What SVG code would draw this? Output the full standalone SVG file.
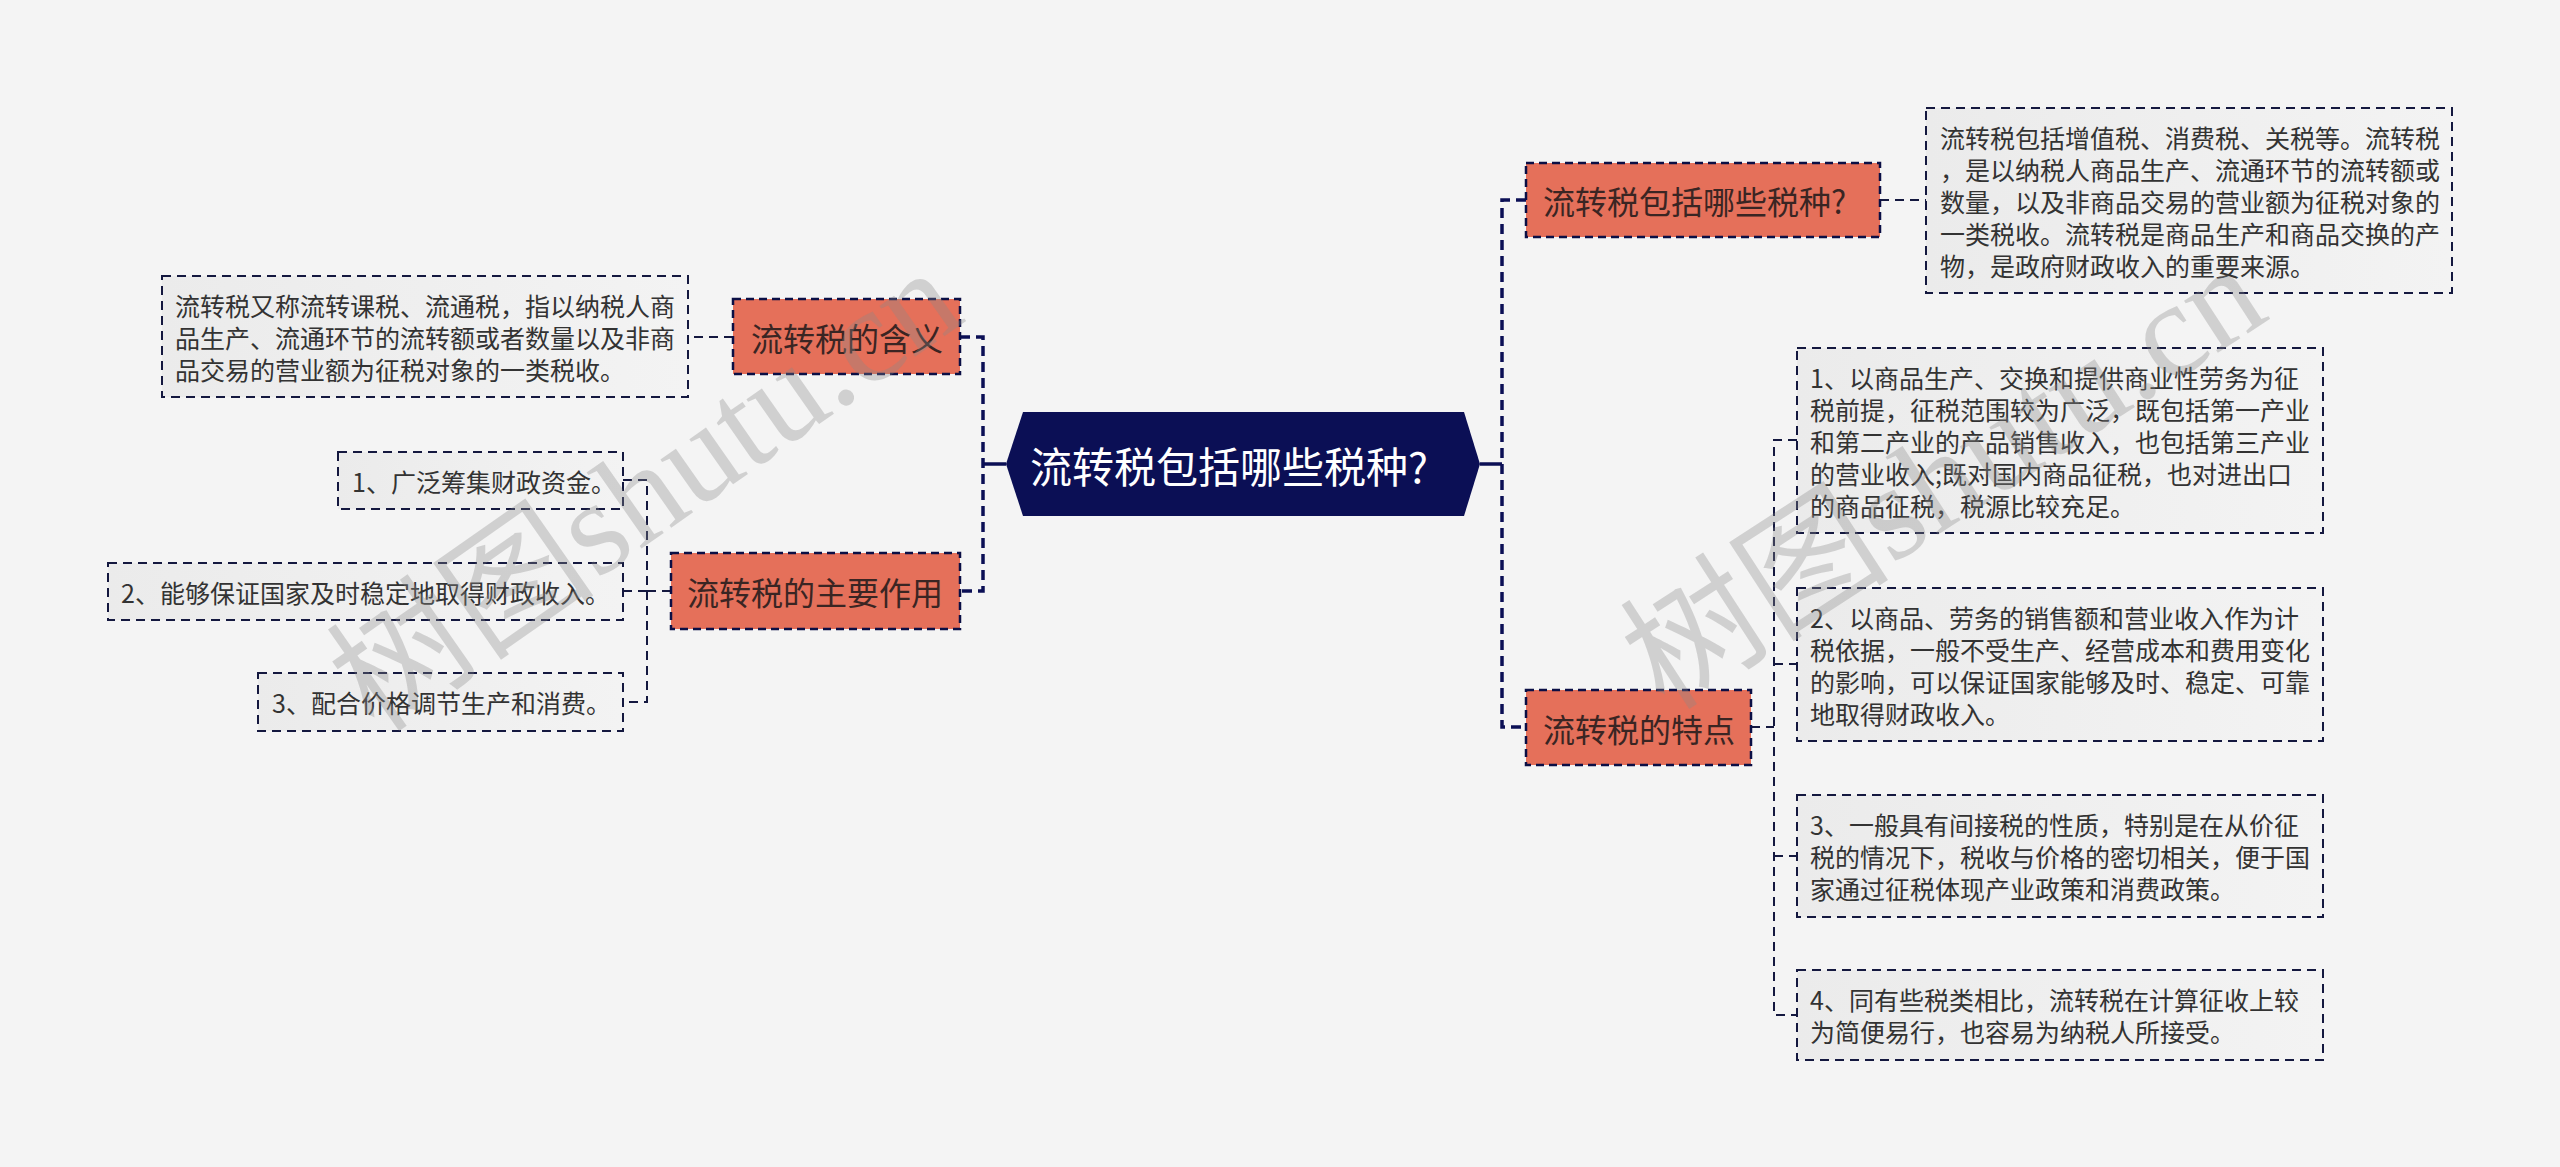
<svg xmlns="http://www.w3.org/2000/svg" width="2560" height="1167" viewBox="0 0 2560 1167">
<defs>
<linearGradient id="boxg" x1="0" y1="0" x2="1" y2="0">
<stop offset="0" stop-color="#ebebeb"/>
<stop offset="1" stop-color="#f3f3f3"/>
</linearGradient>
<style>
.bg{fill:#f4f4f4}
.root{fill:#0b0f55}
.rtxt{font-family:"Noto Sans CJK SC","Noto Sans",sans-serif;font-size:42px;fill:#ffffff;dominant-baseline:central}
.node{fill:#e5705a;stroke:#0b0f45;stroke-width:2.5;stroke-dasharray:8 5}
.ntxt{font-family:"Noto Sans CJK SC","Noto Sans",sans-serif;font-size:32px;fill:#3a2523;dominant-baseline:central}
.box{fill:url(#boxg);stroke:#14183f;stroke-width:2;stroke-dasharray:9 6}
.btxt{font-family:"Noto Sans CJK SC","Noto Sans",sans-serif;font-size:25px;fill:#333333;dominant-baseline:central}
.spine{fill:none;stroke:#0b0f55;stroke-width:3.5;stroke-dasharray:10 6}
.stub{fill:none;stroke:#0b0f55;stroke-width:3.5}
.link{fill:none;stroke:#14183f;stroke-width:2;stroke-dasharray:9 6}
.wm{font-family:"Liberation Serif","Noto Sans CJK SC",serif;font-size:135px;fill:#8a8a8a;fill-opacity:0.33}
</style>
</defs>
<rect class="bg" x="0" y="0" width="2560" height="1167"/>

<g id="connectors">
<path class="stub" d="M982,464 H1006"/>
<path class="stub" d="M1480,464 H1502"/>
<path class="spine" d="M960,337 H983 V591 H960"/>
<path class="spine" d="M1526,200 H1502 V727 H1526"/>
<path class="link" d="M733,337 H688"/>
<path class="link" d="M1880,200 H1926"/>
<path class="link" d="M671,591 H647"/>
<path class="link" d="M623,480 H647 V702 H623"/>
<path class="link" d="M647,591 H623"/>
<path class="link" d="M1751,727 H1774"/>
<path class="link" d="M1797,440 H1774 V1015 H1797"/>
<path class="link" d="M1774,664 H1797"/>
<path class="link" d="M1774,856 H1797"/>
</g>

<g id="root">
<polygon class="root" points="1006,464 1023,412 1464,412 1480,464 1464,516 1023,516"/>
<text class="rtxt" x="1030" y="464">流转税包括哪些税种?</text>
</g>

<g id="n-hanyi">
<rect class="node" x="733" y="299" width="227" height="75"/>
<text class="ntxt" x="751" y="337">流转税的含义</text>
</g>
<g id="n-hanyi-text">
<rect class="box" x="162" y="276" width="526" height="121"/>
<text class="btxt" x="175" y="304.5">流转税又称流转课税、流通税，指以纳税人商</text>
<text class="btxt" x="175" y="336.5">品生产、流通环节的流转额或者数量以及非商</text>
<text class="btxt" x="175" y="368.5">品交易的营业额为征税对象的一类税收。</text>
</g>

<g id="n-zuoyong">
<rect class="node" x="671" y="553" width="289" height="76"/>
<text class="ntxt" x="687" y="591">流转税的主要作用</text>
</g>
<g id="n-zuoyong-1">
<rect class="box" x="338" y="452" width="285" height="57"/>
<text class="btxt" x="352" y="480.5">1、广泛筹集财政资金。</text>
</g>
<g id="n-zuoyong-2">
<rect class="box" x="108" y="563" width="515" height="57"/>
<text class="btxt" x="121" y="591.5">2、能够保证国家及时稳定地取得财政收入。</text>
</g>
<g id="n-zuoyong-3">
<rect class="box" x="258" y="673" width="365" height="58"/>
<text class="btxt" x="272" y="702">3、配合价格调节生产和消费。</text>
</g>

<g id="n-shuizhong">
<rect class="node" x="1526" y="163" width="354" height="74"/>
<text class="ntxt" x="1543" y="200">流转税包括哪些税种?</text>
</g>
<g id="n-shuizhong-text">
<rect class="box" x="1926" y="108" width="526" height="185"/>
<text class="btxt" x="1940" y="136.5">流转税包括增值税、消费税、关税等。流转税</text>
<text class="btxt" x="1940" y="168.5">，是以纳税人商品生产、流通环节的流转额或</text>
<text class="btxt" x="1940" y="200.5">数量，以及非商品交易的营业额为征税对象的</text>
<text class="btxt" x="1940" y="232.5">一类税收。流转税是商品生产和商品交换的产</text>
<text class="btxt" x="1940" y="264.5">物，是政府财政收入的重要来源。</text>
</g>

<g id="n-tedian">
<rect class="node" x="1526" y="690" width="225" height="75"/>
<text class="ntxt" x="1543" y="727.5">流转税的特点</text>
</g>
<g id="n-tedian-1">
<rect class="box" x="1797" y="348" width="526" height="185"/>
<text class="btxt" x="1810" y="376.5">1、以商品生产、交换和提供商业性劳务为征</text>
<text class="btxt" x="1810" y="408.5">税前提，征税范围较为广泛，既包括第一产业</text>
<text class="btxt" x="1810" y="440.5">和第二产业的产品销售收入，也包括第三产业</text>
<text class="btxt" x="1810" y="472.5">的营业收入;既对国内商品征税，也对进出口</text>
<text class="btxt" x="1810" y="504.5">的商品征税，税源比较充足。</text>
</g>
<g id="n-tedian-2">
<rect class="box" x="1797" y="588" width="526" height="153"/>
<text class="btxt" x="1810" y="616.5">2、以商品、劳务的销售额和营业收入作为计</text>
<text class="btxt" x="1810" y="648.5">税依据，一般不受生产、经营成本和费用变化</text>
<text class="btxt" x="1810" y="680.5">的影响，可以保证国家能够及时、稳定、可靠</text>
<text class="btxt" x="1810" y="712.5">地取得财政收入。</text>
</g>
<g id="n-tedian-3">
<rect class="box" x="1797" y="795" width="526" height="122"/>
<text class="btxt" x="1810" y="824">3、一般具有间接税的性质，特别是在从价征</text>
<text class="btxt" x="1810" y="856">税的情况下，税收与价格的密切相关，便于国</text>
<text class="btxt" x="1810" y="888">家通过征税体现产业政策和消费政策。</text>
</g>
<g id="n-tedian-4">
<rect class="box" x="1797" y="970" width="526" height="90"/>
<text class="btxt" x="1810" y="999">4、同有些税类相比，流转税在计算征收上较</text>
<text class="btxt" x="1810" y="1031">为简便易行，也容易为纳税人所接受。</text>
</g>

<g id="watermark">
<text class="wm" x="375" y="735" transform="rotate(-35 375 735)">树图shutu.cn</text>
<text class="wm" x="1665" y="712" transform="rotate(-33 1665 712)">树图shutu.cn</text>
</g>
</svg>
